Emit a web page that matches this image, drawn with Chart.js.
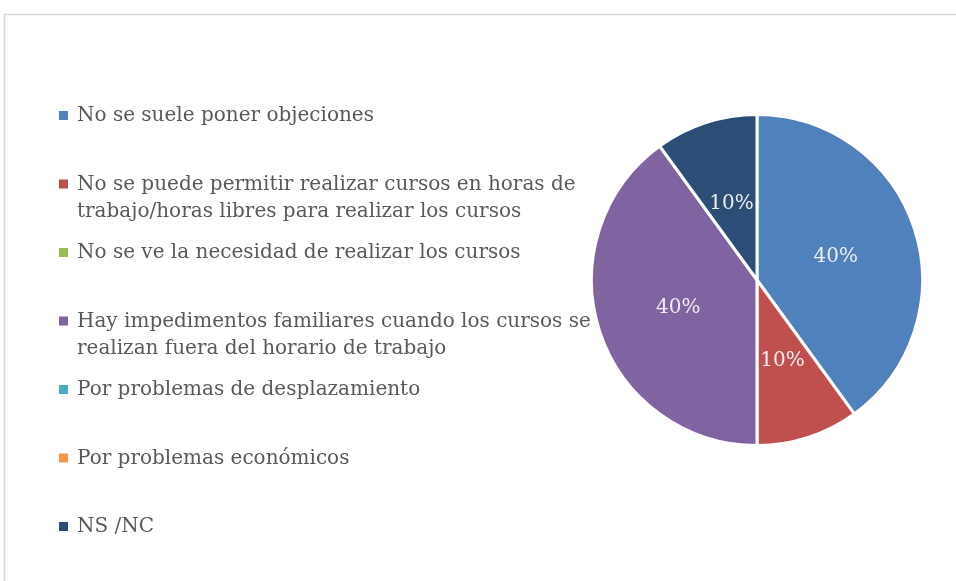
<!DOCTYPE html>
<html>
<head>
<meta charset="utf-8">
<script src="https://cdn.jsdelivr.net/npm/chart.js@4.4.1/dist/chart.umd.min.js"></script>
<style>
  html, body { margin: 0; padding: 0; background: #fff; }
  #wrap { position: relative; width: 956px; height: 581px; }
</style>
</head>
<body>
<div id="wrap"><canvas id="myChart" width="956" height="581"></canvas></div>
<script>
// categories (split into the lines shown in the legend)
var categories = [
	["No se suele poner objeciones"],
	["No se puede permitir realizar cursos en horas de", "trabajo/horas libres para realizar los cursos"],
	["No se ve la necesidad de realizar los cursos"],
	["Hay impedimentos familiares cuando los cursos se", "realizan fuera del horario de trabajo"],
	["Por problemas de desplazamiento"],
	["Por problemas económicos"],
	["NS /NC"]
];
// share of answers, percent
var values = [40, 10, 0, 40, 0, 0, 10];
var colors = ["#4F81BD", "#C0504D", "#9BBB59", "#8064A2", "#4BACC6", "#F79646", "#2C4D75"];

var serif = "'DejaVu Serif', 'Liberation Serif', serif";

// frame round the chart, like the office chart area
var framePlugin = {
	id: 'frame',
	beforeDraw: function(chart) {
		var c = chart.ctx;
		c.save();
		c.strokeStyle = "#d9d9d9";
		c.lineWidth = 1.5;
		c.strokeRect(4.5, 14.5, chart.width + 20, chart.height + 20);
		c.restore();
	}
};

// percent labels in the middle of each slice
var sliceLabels = {
	id: 'sliceLabels',
	afterDatasetsDraw: function(chart) {
		var c = chart.ctx;
		var meta = chart.getDatasetMeta(0);
		var data = chart.data.datasets[0].data;
		var total = data.reduce(function(a, b) { return a + b; }, 0);
		c.save();
		c.font = "20px " + serif;
		c.fillStyle = "#ECECEC";
		c.textAlign = "center";
		c.textBaseline = "middle";
		meta.data.forEach(function(arc, i) {
			if (!data[i]) return;
			var p = arc.tooltipPosition();
			c.fillText(Math.round(data[i] / total * 100) + "%", p.x, p.y + 2);
		});
		c.restore();
	}
};

// legend on the left, with wrapped lines
var sideLegend = {
	id: 'sideLegend',
	afterDraw: function(chart) {
		var c = chart.ctx;
		var labels = chart.data.labels;
		var bg = chart.data.datasets[0].backgroundColor;
		var top = 116, step = 68.5, lineH = 27;
		c.save();
		c.font = "20px " + serif;
		c.textBaseline = "middle";
		labels.forEach(function(lines, i) {
			var y = top + i * step;
			c.fillStyle = bg[i];
			c.fillRect(59, y - 5, 9, 9);
			c.fillStyle = "#595959";
			lines.forEach(function(t, j) {
				c.fillText(t, 77, y + j * lineH);
			});
		});
		c.restore();
	}
};

var ctx = document.getElementById("myChart");

var myPieChart = new Chart(ctx, {
	type: 'pie',
	data: {
		labels: categories,
		datasets: [{
			data: values,
			backgroundColor: colors,
			borderColor: "#fff",
			borderWidth: 3
		}]
	},
	options: {
		responsive: false,
		animation: false,
		layout: { padding: { left: 590, right: 32, top: 113, bottom: 134 } },
		plugins: {
			legend: { display: false },
			tooltip: { enabled: false }
		}
	},
	plugins: [framePlugin, sliceLabels, sideLegend]
});
</script>
</body>
</html>
